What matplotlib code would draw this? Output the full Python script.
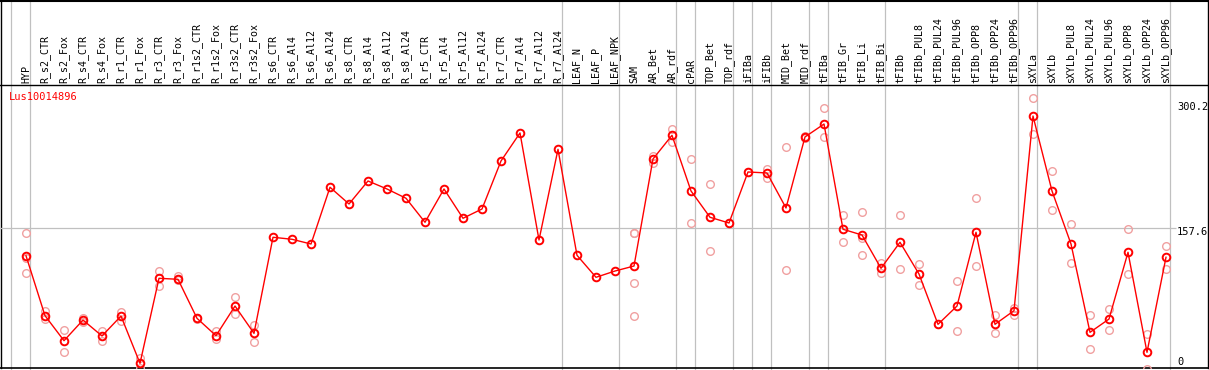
import matplotlib
matplotlib.use("Agg")
import matplotlib.pyplot as plt

# ---------------- data ----------------
categories = [
    "HYP", "R_s2_CTR", "R_s2_Fox", "R_s4_CTR", "R_s4_Fox", "R_r1_CTR", "R_r1_Fox",
    "R_r3_CTR", "R_r3_Fox", "R_r1s2_CTR", "R_r1s2_Fox", "R_r3s2_CTR", "R_r3s2_Fox",
    "R_s6_CTR", "R_s6_Al4", "R_s6_Al12", "R_s6_Al24", "R_s8_CTR", "R_s8_Al4",
    "R_s8_Al12", "R_s8_Al24", "R_r5_CTR", "R_r5_Al4", "R_r5_Al12", "R_r5_Al24",
    "R_r7_CTR", "R_r7_Al4", "R_r7_Al12", "R_r7_Al24", "LEAF_N", "LEAF_P", "LEAF_NPK",
    "SAM", "AR_Bet", "AR_rdf", "cPAR", "TOP_Bet", "TOP_rdf", "iFIBa", "iFIBb",
    "MID_Bet", "MID_rdf", "tFIBa", "tFIB_Gr", "tFIB_Li", "tFIB_Bi", "tFIBb",
    "tFIBb_PUL8", "tFIBb_PUL24", "tFIBb_PUL96", "tFIBb_OPP8", "tFIBb_OPP24",
    "tFIBb_OPP96", "sXYLa", "sXYLb", "sXYLb_PUL8", "sXYLb_PUL24", "sXYLb_PUL96",
    "sXYLb_OPP8", "sXYLb_OPP24", "sXYLb_OPP96",
]

mean_values = [
    127.1, 61.2, 33.7, 56.4, 38.9, 60.8, 8.8, 102.3, 101.2, 58.3, 39.2, 71.8, 41.8,
    147.4, 145.2, 140.0, 202.4, 184.0, 209.3, 200.5, 190.3, 163.9, 200.5, 168.3, 178.5,
    231.3, 262.1, 144.4, 244.1, 127.6, 103.4, 110.3,
    115.8, 233.5, 259.5, 198.3, 169.4, 163.1, 219.2, 218.1,
    179.6, 257.7, 271.9, 156.2, 149.9, 113.3, 141.9,
    107.0, 51.7, 71.8, 152.9, 51.7, 66.7,
    280.7, 198.3, 140.0, 42.9, 57.5, 130.9, 20.9, 125.4,
]

replicates = [
    [151.8, 124.3, 107.8], [66.7, 57.5], [45.4, 20.9], [59.0, 54.0], [44.7, 33.7],
    [64.9, 55.6], [15.0, 3.3], [110.3, 93.8], [104.8, 100.4], [59.0, 57.5], [44.4, 35.6],
    [82.1, 63.0], [50.9, 32.6],
    [], [], [], [], [], [], [], [], [], [], [], [], [], [], [], [], [], [], [],
    [152.4, 152.4, 96.8, 60.8], [237.1, 228.8], [266.5, 252.5], [233.1, 162.8],
    [205.6, 132.0], [163.1], [219.2], [222.8, 212.2],
    [246.7, 111.1], [259.1, 256.2], [289.2, 257.7], [171.6, 141.9],
    [174.9, 127.6, 146.3], [118.8, 107.8], [171.6, 112.2],
    [118.0, 94.6], [51.7], [99.3, 44.4], [190.3, 115.8], [61.6, 41.8], [69.3, 61.9],
    [300.2, 260.9], [219.9, 177.1], [161.7, 118.8], [61.6, 24.6], [68.5, 45.5],
    [156.2, 106.7], [40.7, 2.2], [137.8, 112.5],
]

gene_name = "Lus10014896"
scale_labels = ["300.2", "157.6", "0"]
scale_values = [300.2, 157.6, 0.0]
mid_value = 157.6
group_ends = [-1, 0, 28, 31, 34, 35, 37, 38, 39, 41, 42, 45, 52, 53, 60]

# ---------------- layout ----------------
W, H = 1209, 370
fig = plt.figure(figsize=(W / 100, H / 100), dpi=100)
fig.patch.set_facecolor("white")

x0_px, dx_px = 26.0, 19.0        # pixel of first column, column spacing
def px_to_idx(px):
    return (px - x0_px) / dx_px

# background (layout) axes covering whole figure: x in column units, y in pixels
hax = fig.add_axes([0, 0, 1, 1])
hax.set_xlim(px_to_idx(0), px_to_idx(W))
hax.set_ylim(H, 0)
hax.axis("off")

gray = "#c0c0c0"
for g in group_ends:
    hax.axvline(g + 0.23, color=gray, lw=0.9, zorder=1)

mono = "DejaVu Sans Mono"
for i, lab in enumerate(categories):
    hax.text(i, 83, lab, rotation=90, ha="center", va="bottom",
             fontsize=7.2, family=mono, color="black", zorder=3)

# borders
hax.plot([px_to_idx(0), px_to_idx(W)], [0.5, 0.5], color="black", lw=1.5, zorder=4)
hax.plot([px_to_idx(0), px_to_idx(W)], [85, 85], color="black", lw=1.0, zorder=4)
hax.plot([px_to_idx(0), px_to_idx(W)], [368, 368], color="black", lw=1.2, zorder=4)
hax.plot([px_to_idx(1.5), px_to_idx(1.5)], [0, 368], color="black", lw=1.0, zorder=4)
hax.plot([px_to_idx(1208), px_to_idx(1208)], [0, 368], color="black", lw=1.0, zorder=4)

# data axes: plot region from y=85 to y=368 px
y_top_px, y_bot_px = 85.0, 368.0
mid_px, scale_px = 228.0, 0.9095   # pixel of mid_value, pixels per unit
ax = fig.add_axes([0, (H - y_bot_px) / H, 1, (y_bot_px - y_top_px) / H])
ax.patch.set_alpha(0)
ax.set_xlim(px_to_idx(0), px_to_idx(W))
ax.set_ylim(mid_value - (y_bot_px - mid_px) / scale_px,
            mid_value + (mid_px - y_top_px) / scale_px)
ax.axis("off")

ax.hlines(mid_value, px_to_idx(0), px_to_idx(1176), color=gray, lw=0.9, zorder=1)

xs = list(range(len(categories)))
rx, ry = [], []
for i, reps in enumerate(replicates):
    for r in reps:
        rx.append(i)
        ry.append(r)
ax.plot(rx, ry, ls="none", marker="o", ms=5.5, mfc="none", mec="#f0a0a0",
        mew=1.0, zorder=2, clip_on=True)
ax.plot(xs, mean_values, color="#ff0000", lw=1.0, marker="o", ms=5.5,
        mfc="none", mec="#ff0000", mew=1.4, zorder=3)

# title and scale labels (pixel layout)
hax.text(px_to_idx(9), 97, gene_name, color="#ff0000", fontsize=7.5,
         family=mono, ha="left", va="center", zorder=5)
for lab, ypx in zip(scale_labels, [107, 232, 362]):
    hax.text(px_to_idx(1177), ypx, lab, color="black", fontsize=7.5,
             family=mono, ha="left", va="center", zorder=5)

fig.savefig("out.png", dpi=100)
